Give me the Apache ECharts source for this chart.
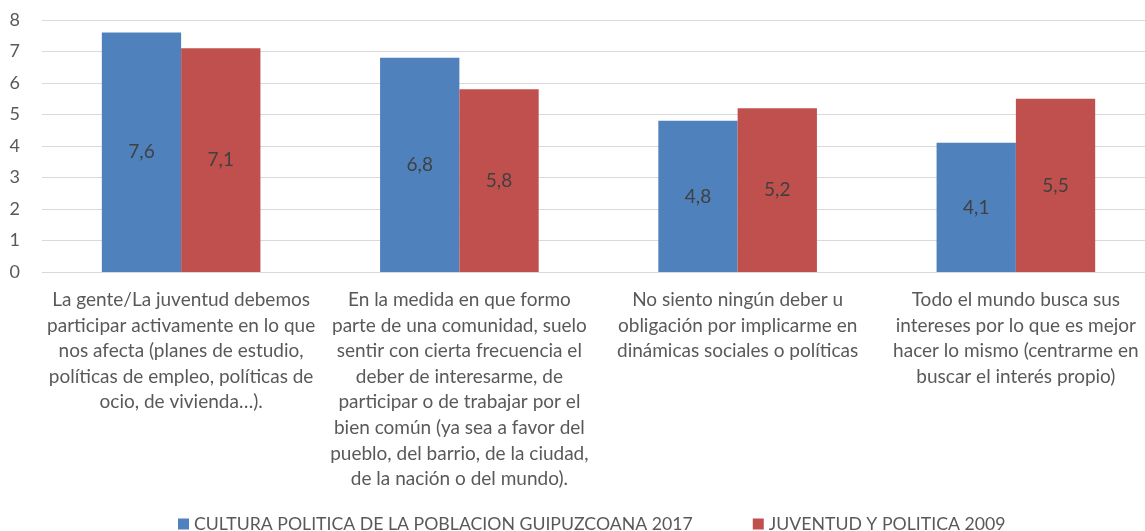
<!DOCTYPE html>
<html>
<head>
<meta charset="utf-8">
<script src="https://cdn.jsdelivr.net/npm/echarts@6/dist/echarts.min.js"></script>
<style>
html,body{margin:0;padding:0;background:#fff;}
#chart{width:1145px;height:531px;}
</style>
</head>
<body>
<div id="chart"></div>
<script>
// categories (line breaks as in the original)
var categories = [
  'La gente/La juventud debemos\nparticipar activamente en lo que\nnos afecta (planes de estudio,\npolíticas de empleo, políticas de\nocio, de vivienda…).',
  'En la medida en que formo\nparte de una comunidad, suelo\nsentir con cierta frecuencia el\ndeber de interesarme, de\nparticipar o de trabajar por el\nbien común (ya sea a favor del\npueblo, del barrio, de la ciudad,\nde la nación o del mundo).',
  'No siento ningún deber u\nobligación por implicarme en\ndinámicas sociales o políticas',
  'Todo el mundo busca sus\nintereses por lo que es mejor\nhacer lo mismo (centrarme en\nbuscar el interés propio)'
]
var seriesNames = ['CULTURA POLITICA DE LA POBLACION GUIPUZCOANA 2017', 'JUVENTUD Y POLITICA 2009']
var cultura2017 = [7.6, 6.8, 4.8, 4.1]
var juventud2009 = [7.1, 5.8, 5.2, 5.5]

var font = 'Lato'
var chart = echarts.init(document.getElementById('chart'))

function fmt(p){
  return String(p.value).replace('.', ',')
}

chart.setOption({
  animation: false,
  color: ['#4F81BD', '#C0504D'],
  textStyle: { fontFamily: font },
  grid: { left: 42, top: 20, width: 1113, height: 252, outerBoundsMode: 'none' },
  legend: {
    top: 510,
    left: 173,
    itemWidth: 11,
    itemHeight: 11,
    itemGap: 60,
    icon: 'rect',
    textStyle: { color: '#595959', fontSize: 17.7, fontFamily: font },
    data: seriesNames
  },
  xAxis: {
    type: 'category',
    data: categories,
    axisLine: { lineStyle: { color: '#D9D9D9' } },
    axisTick: { show: false },
    axisLabel: {
      interval: 0,
      color: '#595959',
      fontSize: 19,
      lineHeight: 25.6,
      margin: 15,
      align: 'center',
      fontFamily: font
    }
  },
  yAxis: {
    type: 'value',
    min: 0,
    max: 8,
    interval: 1,
    axisLine: { show: false },
    axisTick: { show: false },
    splitLine: { lineStyle: { color: '#D9D9D9' } },
    axisLabel: { color: '#595959', fontSize: 18, margin: 22, fontFamily: font }
  },
  series: [
    {
      name: seriesNames[0],
      type: 'bar',
      data: cultura2017,
      barGap: '0%',
      barCategoryGap: '43%',
      label: { show: true, position: 'inside', color: '#404040', fontSize: 19, formatter: fmt, fontFamily: font }
    },
    {
      name: seriesNames[1],
      type: 'bar',
      data: juventud2009,
      barGap: '0%',
      barCategoryGap: '43%',
      label: { show: true, position: 'inside', color: '#404040', fontSize: 19, formatter: fmt, fontFamily: font }
    }
  ]
})
</script>
</body>
</html>
